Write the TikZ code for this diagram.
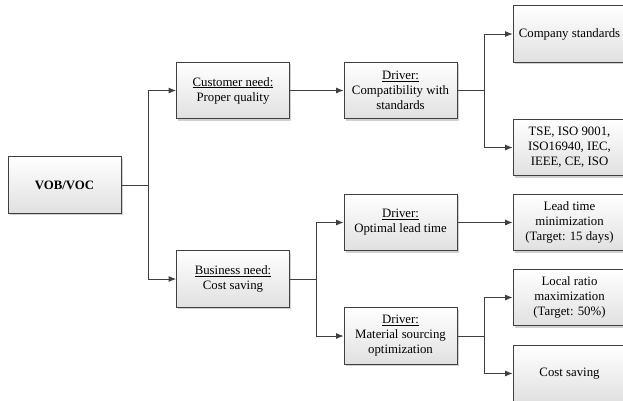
\documentclass[tikz,border=0pt]{standalone}
\usepackage{fontspec}
\setmainfont{Liberation Serif}
\usetikzlibrary{arrows.meta, shadows}
\definecolor{linegray}{rgb}{0.25,0.25,0.25}
\definecolor{boxbottom}{rgb}{0.88,0.88,0.88}
\tikzset{
	block/.style={draw=linegray, line width=0.8pt, minimum width=113pt, minimum height=56.5pt,
		align=center, inner sep=2pt, top color=white, bottom color=boxbottom,
		drop shadow={shadow xshift=1.8pt, shadow yshift=-1.8pt, fill=gray!45, opacity=0.8},
		font=\fontsize{12.8}{15}\selectfont},
	link/.style={draw=linegray, line width=0.9pt, -{Latex[length=7.5pt,width=6pt]}},
}

\begin{document}
\begin{tikzpicture}[x=1pt, y=-1pt]
		\useasboundingbox (0,0) rectangle (623,400);
		\clip (0,0) rectangle (623,400);
		% root and needs
		\node[block] (vob) at (64.5,185) {\textbf{VOB/VOC}};
		\node[block] (cust) at (233,90.5) {\underline{Customer need:}\\Proper quality};
		\node[block] (bus) at (233,279) {\underline{Business need:}\\Cost saving};
		% drivers
		\node[block] (compat) at (400.5,90.5) {\underline{Driver:}\\Compatibility with\\standards};
		\node[block] (lead) at (400.5,222.5) {\underline{Driver:}\\Optimal lead time};
		\node[block] (sourcing) at (400.5,336) {\underline{Driver:}\\Material sourcing\\optimization};
		% targets
		\node[block] (compstd) at (569.5,34) {Company standards};
		\node[block] (norms) at (569.5,147.5) {TSE, ISO 9001,\\ISO16940, IEC,\\IEEE, CE, ISO};
		\node[block] (leadmin) at (569.5,222.5) {Lead time\\minimization\\(Target: 15 days)};
		\node[block] (localr) at (569.5,297.5) {Local ratio\\maximization\\(Target: 50\%)};
		\node[block] (costsv) at (569.5,373.5) {Cost saving};
		% connectors
		\draw[link] (vob.east) -- ++(27,0) |- (cust.west);
		\draw[link] (vob.east) -- ++(27,0) |- (bus.west);
		\draw[link] (cust.east) -- (compat.west);
		\draw[link] (bus.east) -- ++(27,0) |- (lead.west);
		\draw[link] (bus.east) -- ++(27,0) |- (sourcing.west);
		\draw[link] (compat.east) -- ++(27,0) |- (compstd.west);
		\draw[link] (compat.east) -- ++(27,0) |- (norms.west);
		\draw[link] (lead.east) -- (leadmin.west);
		\draw[link] (sourcing.east) -- ++(27,0) |- (localr.west);
		\draw[link] (sourcing.east) -- ++(27,0) |- (costsv.west);
	\end{tikzpicture}
\end{document}
